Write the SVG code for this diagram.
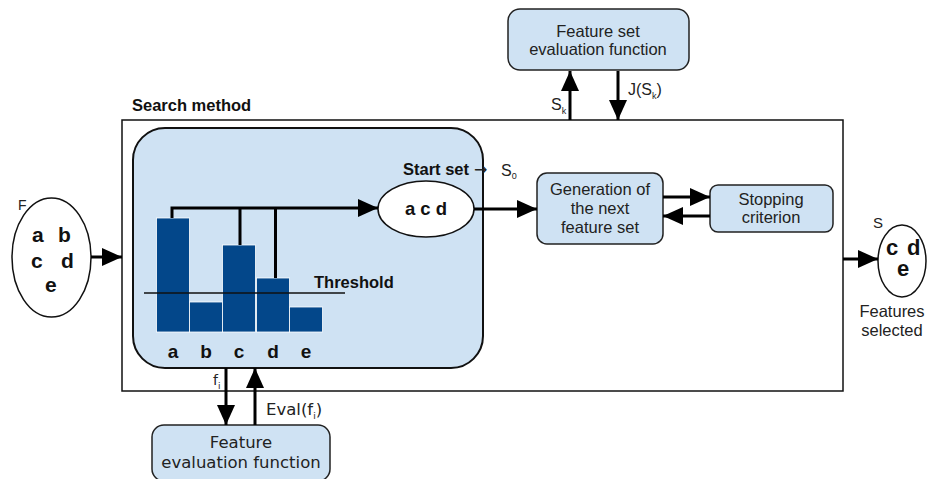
<svg xmlns="http://www.w3.org/2000/svg" width="927" height="479" viewBox="0 0 927 479">
  <style>
    .box { fill: #cfe2f3; stroke: #222; stroke-width: 1.5; }
    .ell { fill: #fff; stroke: #111; stroke-width: 1.5; }
    .bar { fill: #03478a; stroke: #ffffff; stroke-width: 0.8; }
    .txt { font-family: "Liberation Sans", Arial, sans-serif; font-size: 16.5px; fill: #222; }
    .dv { font-family: "DejaVu Sans", sans-serif; font-size: 16.5px; fill: #222; }
    .b { font-weight: bold; fill: #111; }
    .big { font-family: "Liberation Sans", Arial, sans-serif; font-weight: bold; font-size: 20px; fill: #111; }
    .conn { stroke: #000; stroke-width: 3; fill: none; }
    .lbl { font-size: 16px; }
    .sub { font-size: 9px; }
  </style>
  <defs>
    <marker id="ah" viewBox="0 0 20 18" refX="20" refY="9" markerWidth="20" markerHeight="18" markerUnits="userSpaceOnUse" orient="auto">
      <path d="M0,0 L20,9 L0,18 Z" fill="#000"/>
    </marker>
  </defs>

  <!-- Search method frame -->
  <g id="search-method">
    <rect x="122" y="120" width="721" height="271" fill="#fff" stroke="#111" stroke-width="1.5"/>
    <text class="txt b" x="132" y="111">Search method</text>
  </g>

  <!-- Filter panel with feature ranking histogram -->
  <g id="ranking-panel">
    <rect x="133" y="128" width="350" height="240" rx="32" ry="32" fill="#cfe2f3" stroke="#111" stroke-width="2"/>
    <rect class="bar" x="156.5" y="218" width="33" height="114"/>
    <rect class="bar" x="189.5" y="302" width="33" height="30"/>
    <rect class="bar" x="222.5" y="245" width="33" height="87"/>
    <rect class="bar" x="256.5" y="278" width="33" height="54"/>
    <rect class="bar" x="289.5" y="307" width="33" height="25"/>
    <line x1="144" y1="293" x2="345" y2="293" stroke="#111" stroke-width="1.3"/>
    <text class="txt b" x="314" y="288">Threshold</text>
    <g class="big" text-anchor="middle" style="font-size:19px">
      <text x="173" y="358">a</text>
      <text x="206" y="358">b</text>
      <text x="239" y="358">c</text>
      <text x="273" y="358">d</text>
      <text x="306" y="358">e</text>
    </g>
  </g>

  <g id="start-set">
    <ellipse class="ell" cx="426" cy="209" rx="48" ry="28"/>
    <text class="big" x="426" y="215" text-anchor="middle" style="font-size:18.5px">a c d</text>
    <text class="txt b" x="403" y="175">Start set</text>
    <text x="474" y="175" font-family="DejaVu Sans, sans-serif" font-size="16" fill="#222">→</text>
    <text class="txt lbl" x="501" y="176">S<tspan class="sub" dy="3">0</tspan></text>
  </g>

  <g id="all-features">
    <ellipse class="ell" cx="51.5" cy="257.5" rx="39.5" ry="59.5"/>
    <text class="txt" x="18" y="210" style="font-size:14px">F</text>
    <g class="big" style="font-size:21px">
      <text x="32" y="242">a</text>
      <text x="58" y="242">b</text>
      <text x="31" y="268">c</text>
      <text x="61" y="268">d</text>
      <text x="45" y="292">e</text>
    </g>
  </g>

  <g id="generation">
    <rect class="box" x="537" y="173" width="126" height="71" rx="10"/>
    <text class="txt" x="600" y="195" text-anchor="middle">Generation of</text>
    <text class="txt" x="600" y="214" text-anchor="middle">the next</text>
    <text class="txt" x="600" y="233" text-anchor="middle">feature set</text>
  </g>

  <g id="stopping">
    <rect class="box" x="710" y="185" width="123" height="47" rx="8"/>
    <text class="txt" x="771" y="205" text-anchor="middle">Stopping</text>
    <text class="txt" x="771" y="223" text-anchor="middle">criterion</text>
  </g>

  <g id="set-evaluation">
    <rect class="box" x="508" y="9" width="181" height="61" rx="12"/>
    <text class="txt" x="598" y="37" text-anchor="middle">Feature set</text>
    <text class="txt" x="598" y="55" text-anchor="middle">evaluation function</text>
  </g>

  <g id="feature-evaluation">
    <rect class="box" x="152" y="425" width="178" height="56" rx="12"/>
    <text class="dv" x="241" y="448" text-anchor="middle">Feature</text>
    <text class="dv" x="241" y="468" text-anchor="middle">evaluation function</text>
  </g>

  <g id="selected">
    <ellipse class="ell" cx="902" cy="261" rx="24" ry="36"/>
    <text class="txt" x="873" y="228" style="font-size:15px">S</text>
    <g class="big" style="font-size:22px">
      <text x="886" y="255">c</text>
      <text x="907" y="255">d</text>
      <text x="903" y="276" text-anchor="middle">e</text>
    </g>
    <text class="txt" x="892" y="317" text-anchor="middle">Features</text>
    <text class="txt" x="892" y="336" text-anchor="middle">selected</text>
  </g>

  <!-- Connectors -->
  <g id="connectors">
    <path class="conn" d="M172,218 V208 H378" marker-end="url(#ah)"/>
    <path class="conn" d="M240,245 V208"/>
    <path class="conn" d="M275.5,278 V208"/>
    <path class="conn" d="M474,209 H537" marker-end="url(#ah)"/>
    <path class="conn" d="M91,257 H122" marker-end="url(#ah)"/>
    <path class="conn" d="M663,197 H710" marker-end="url(#ah)"/>
    <path class="conn" d="M710,216 H663" marker-end="url(#ah)"/>
    <path class="conn" d="M570,120 V71" marker-end="url(#ah)"/>
    <path class="conn" d="M618,71 V120" marker-end="url(#ah)"/>
    <path class="conn" d="M843,259 H878" marker-end="url(#ah)"/>
    <path class="conn" d="M226,368 V425" marker-end="url(#ah)"/>
    <path class="conn" d="M255,425 V368" marker-end="url(#ah)"/>
    <text class="txt lbl" x="551" y="110">S<tspan class="sub" dy="4">k</tspan></text>
    <text class="txt lbl" x="628" y="95">J(S<tspan class="sub" dy="4">k</tspan><tspan dy="-4">)</tspan></text>
    <text class="dv" x="213" y="385" style="font-size:14px">f<tspan class="sub" dy="4">i</tspan></text>
    <text class="dv" x="266" y="415">Eval(f<tspan class="sub" dy="4">i</tspan><tspan dy="-4">)</tspan></text>
  </g>
</svg>
